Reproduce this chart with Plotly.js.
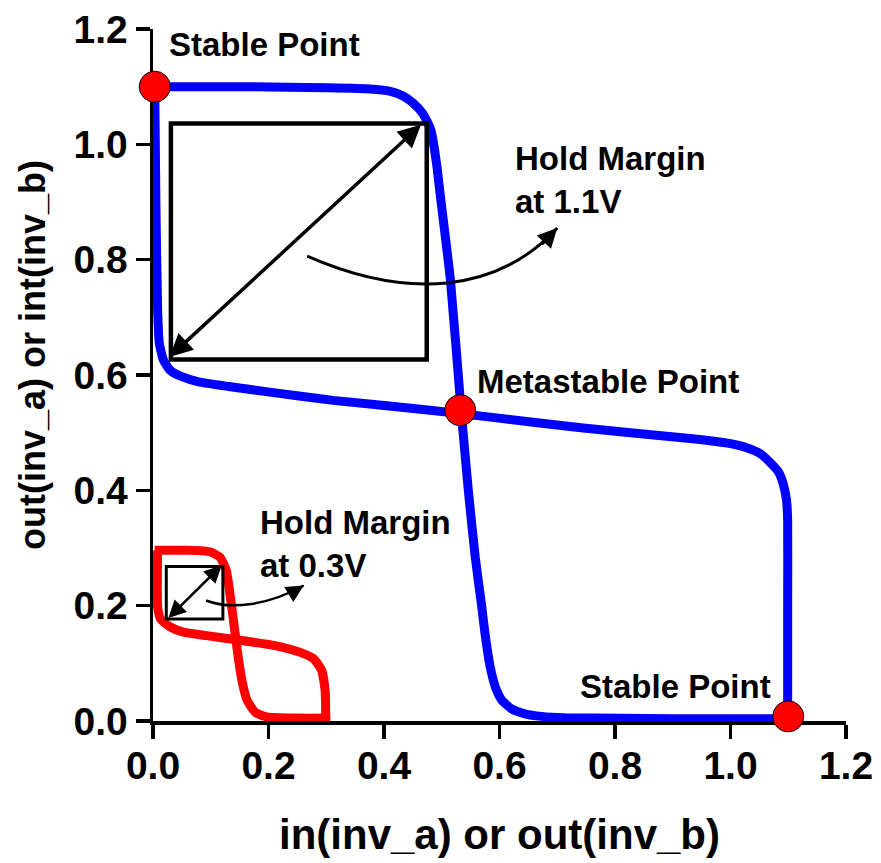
<!DOCTYPE html>
<html>
<head>
<meta charset="utf-8">
<script src="https://cdn.plot.ly/plotly-3.0.1.min.js"></script>
<style>html,body{margin:0;padding:0;background:#fff;}#chart{width:881px;height:863px;}</style>
</head>
<body>
<div id="chart"></div>
<script>
// ---- Data ----
// 1.1 V butterfly curve: inverter A transfer curve (y = f(x))
const blueAx = [0.000, 0.168, 0.300, 0.376, 0.411, 0.433, 0.450, 0.466, 0.475, 0.482, 0.487, 0.492, 0.497, 0.515, 0.533, 0.546, 0.558, 0.569, 0.575, 0.584, 0.595, 0.604, 0.621, 0.644, 0.673, 0.714, 0.900, 1.100];
const blueAy = [1.100, 1.100, 1.098, 1.096, 1.092, 1.084, 1.072, 1.055, 1.039, 1.022, 0.994, 0.959, 0.915, 0.765, 0.545, 0.400, 0.284, 0.200, 0.151, 0.093, 0.053, 0.036, 0.021, 0.0125, 0.008, 0.0056, 0.004, 0.004];
// 1.1 V butterfly curve: inverter B transfer curve (mirrored, x = g(y))
const blueBx = [0.003, 0.005, 0.008, 0.011, 0.018, 0.030, 0.050, 0.079, 0.131, 0.212, 0.312, 0.480, 0.584, 0.745, 0.930, 0.965, 1.000, 1.028, 1.051, 1.068, 1.083, 1.091, 1.097, 1.099, 1.099, 1.099];
const blueBy = [1.100, 0.900, 0.713, 0.655, 0.626, 0.608, 0.597, 0.588, 0.580, 0.569, 0.556, 0.539, 0.527, 0.508, 0.490, 0.486, 0.481, 0.474, 0.464, 0.449, 0.432, 0.412, 0.383, 0.348, 0.200, 0.003];
// 0.3 V butterfly curve
const redAx = [0.003, 0.060, 0.087, 0.100, 0.116, 0.127, 0.134, 0.140, 0.146, 0.154, 0.163, 0.177, 0.197, 0.250, 0.307];
const redAy = [0.296, 0.296, 0.295, 0.293, 0.284, 0.261, 0.215, 0.169, 0.122, 0.070, 0.036, 0.015, 0.007, 0.005, 0.005];
const redBx = [0.008, 0.008, 0.013, 0.030, 0.053, 0.093, 0.151, 0.209, 0.255, 0.278, 0.292, 0.298, 0.299, 0.299];
const redBy = [0.296, 0.198, 0.177, 0.163, 0.154, 0.148, 0.140, 0.131, 0.119, 0.108, 0.088, 0.053, 0.020, 0.003];
// Stable / metastable points
const pointX = [0.003, 0.532, 1.100];
const pointY = [1.100, 0.539, 0.008];
// Hold margin squares [x0, x1, y0, y1] and diagonal arrows [xTail, yTail, xTip, yTip]
const holdBox11 = [0.031, 0.474, 0.627, 1.036];
const holdDiag11 = [0.026, 0.629, 0.464, 1.034];
const holdBox03 = [0.023, 0.121, 0.177, 0.268];
const holdDiag03 = [0.024, 0.176, 0.119, 0.270];
// Curved pointer arrows: [x0,y0, c1x,c1y, c2x,c2y, x1,y1] and arrow-head tail [x,y]
const curve11 = [0.267, 0.806, 0.440, 0.730, 0.596, 0.742, 0.700, 0.855];
const curve11Head = [0.671, 0.824];
const curve03 = [0.092, 0.209, 0.136, 0.192, 0.200, 0.201, 0.261, 0.235];
const curve03Head = [0.238, 0.221];
// Labels
const labelText = ['Stable Point', 'Hold Margin<br>at 1.1V', 'Metastable Point', 'Hold Margin<br>at 0.3V', 'Stable Point'];
const labelX = [0.025, 0.623, 0.558, 0.181, 0.736];
const labelY = [1.173, 0.938, 0.588, 0.307, 0.060];
const tickVals = [0, 0.2, 0.4, 0.6, 0.8, 1.0, 1.2];
const tickText = ['0.0', '0.2', '0.4', '0.6', '0.8', '1.0', '1.2'];

const FONT = 'Arial, "Liberation Sans", sans-serif';

const lineStyle = (c) => ({color: c, width: 9, shape: 'spline', smoothing: 0.5});
const traces = [
  {x: blueAx, y: blueAy, mode: 'lines', line: lineStyle('#0000ff'), hoverinfo: 'skip'},
  {x: blueBx, y: blueBy, mode: 'lines', line: lineStyle('#0000ff'), hoverinfo: 'skip'},
  {x: redAx, y: redAy, mode: 'lines', line: lineStyle('#ff0000'), hoverinfo: 'skip'},
  {x: redBx, y: redBy, mode: 'lines', line: lineStyle('#ff0000'), hoverinfo: 'skip'},
  {x: pointX, y: pointY, mode: 'markers', cliponaxis: false,
   marker: {color: '#ff0000', size: 31, line: {color: '#000', width: 1}}, hoverinfo: 'skip'}
];

function bez(c) {
  return 'M ' + c[0] + ',' + c[1] + ' C ' + c[2] + ',' + c[3] + ' ' + c[4] + ',' + c[5] + ' ' + c[6] + ',' + c[7];
}

const shapes = [
  {type: 'rect', xref: 'x', yref: 'y', x0: holdBox11[0], x1: holdBox11[1], y0: holdBox11[2], y1: holdBox11[3], line: {color: '#000', width: 4.5}, layer: 'above'},
  {type: 'rect', xref: 'x', yref: 'y', x0: holdBox03[0], x1: holdBox03[1], y0: holdBox03[2], y1: holdBox03[3], line: {color: '#000', width: 3}, layer: 'above'},
  {type: 'path', xref: 'x', yref: 'y', path: bez(curve11), line: {color: '#000', width: 3}, layer: 'above'},
  {type: 'path', xref: 'x', yref: 'y', path: bez(curve03), line: {color: '#000', width: 2.5}, layer: 'above'}
];

const annotations = [
  {x: holdDiag11[2], y: holdDiag11[3], ax: holdDiag11[0], ay: holdDiag11[1], xref: 'x', yref: 'y', axref: 'x', ayref: 'y',
   text: '', showarrow: true, arrowside: 'end+start', arrowhead: 2, arrowsize: 1.3, arrowwidth: 3.5, arrowcolor: '#000', standoff: 0, startstandoff: 0},
  {x: holdDiag03[2], y: holdDiag03[3], ax: holdDiag03[0], ay: holdDiag03[1], xref: 'x', yref: 'y', axref: 'x', ayref: 'y',
   text: '', showarrow: true, arrowside: 'end+start', arrowhead: 2, arrowsize: 1.4, arrowwidth: 2.5, arrowcolor: '#000', standoff: 0, startstandoff: 0},
  {x: curve11[6], y: curve11[7], ax: curve11Head[0], ay: curve11Head[1], xref: 'x', yref: 'y', axref: 'x', ayref: 'y',
   text: '', showarrow: true, arrowhead: 2, arrowsize: 1.3, arrowwidth: 3, arrowcolor: '#000', standoff: 0},
  {x: curve03[6], y: curve03[7], ax: curve03Head[0], ay: curve03Head[1], xref: 'x', yref: 'y', axref: 'x', ayref: 'y',
   text: '', showarrow: true, arrowhead: 2, arrowsize: 1.4, arrowwidth: 2.5, arrowcolor: '#000', standoff: 0}
];
for (let i = 0; i < labelText.length; i++) {
  annotations.push({x: labelX[i], y: labelY[i], xref: 'x', yref: 'y', text: labelText[i], showarrow: false,
    xanchor: 'left', yanchor: 'middle', align: 'left',
    font: {family: FONT, size: 33, color: '#000', weight: 'bold'}});
}

const axisCommon = {
  range: [0, 1.2], tickmode: 'array', tickvals: tickVals, ticktext: tickText,
  showline: true, linecolor: '#000', linewidth: 3.5, ticks: 'outside', ticklen: 14, tickwidth: 3.5, tickcolor: '#000',
  showgrid: false, zeroline: false, layer: 'below traces', automargin: false,
  tickfont: {family: FONT, size: 39, color: '#000', weight: 'bold'}
};

const layout = {
  width: 881, height: 863,
  margin: {l: 153, r: 35, t: 29, b: 142},
  paper_bgcolor: '#fff', plot_bgcolor: '#fff',
  showlegend: false,
  xaxis: Object.assign({}, axisCommon, {
    ticklabelstandoff: -6,
    title: {text: 'in(inv_a) or out(inv_b)', standoff: 34, font: {family: FONT, size: 42, color: '#000', weight: 'bold'}}
  }),
  yaxis: Object.assign({}, axisCommon, {
    title: {text: '&nbsp;&nbsp;&nbsp;&nbsp;out(inv_a) or int(inv_b)', standoff: 18, font: {family: FONT, size: 36, color: '#000', weight: 'bold'}}
  }),
  shapes: shapes,
  annotations: annotations
};

Plotly.newPlot('chart', traces, layout, {staticPlot: true, displayModeBar: false});
</script>
</body>
</html>
